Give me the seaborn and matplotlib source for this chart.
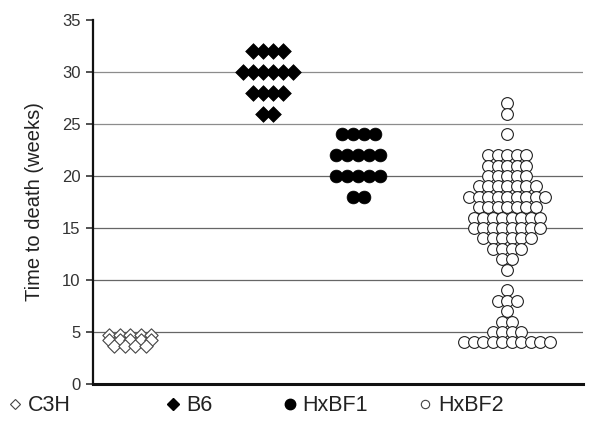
import matplotlib
matplotlib.use("Agg")

import matplotlib.pyplot as plt
import numpy as np
import pandas as pd
import seaborn as sns
from matplotlib.lines import Line2D

# Survival times (weeks), one entry per mouse
groups = ["C3H", "B6", "HxBF1", "HxBF2"]
c3h_weeks = [4.7] * 5 + [4.2] * 5 + [3.7] * 4
b6_weeks = [32] * 4 + [30] * 6 + [28] * 4 + [26] * 2
hxbf1_weeks = [24] * 4 + [22] * 5 + [20] * 5 + [18] * 2
hxbf2_weeks = (
    [27] + [26] + [24]
    + [22] * 5 + [21] * 5 + [20] * 5 + [19] * 7 + [18] * 9 + [17] * 7
    + [16] * 8 + [15] * 8 + [14] * 6 + [13] * 4 + [12] * 2 + [11]
    + [9] + [8] * 3 + [7] + [6] * 2 + [5] * 4 + [4] * 10
)
y_ticks = [0, 5, 10, 15, 20, 25, 30, 35]

# layout: where each column of dots sits and how far apart the dots are
GROUP_CENTERS = [37, 175, 265, 414]
DOT_SPACING = [10.5, 10, 11, 9.5]
MARKERS = {
    "C3H": dict(marker="D", s=46, facecolor="white", edgecolor="#444444", linewidth=0.8),
    "B6": dict(marker="D", s=64, facecolor="black", edgecolor="black", linewidth=0.5),
    "HxBF1": dict(marker="o", s=85, facecolor="black", edgecolor="black", linewidth=0.5),
    "HxBF2": dict(marker="o", s=72, facecolor="white", edgecolor="#222222", linewidth=0.8),
}


def row_positions(weeks, center, spacing):
    """Spread tied values side by side, centred on the group position."""
    weeks = np.asarray(weeks, dtype=float)
    xs = np.empty_like(weeks)
    for value in np.unique(weeks):
        idx = np.where(weeks == value)[0]
        offsets = (np.arange(len(idx)) - (len(idx) - 1) / 2) * spacing
        xs[idx] = center + offsets
    return xs


frames = []
for name, weeks, center, spacing in zip(
    groups, [c3h_weeks, b6_weeks, hxbf1_weeks, hxbf2_weeks], GROUP_CENTERS, DOT_SPACING
):
    frames.append(
        pd.DataFrame({"group": name, "weeks": weeks, "x": row_positions(weeks, center, spacing)})
    )
df = pd.concat(frames, ignore_index=True)

sns.set_theme(style="white")
plt.rcParams["font.family"] = ["Liberation Sans", "DejaVu Sans"]

fig, ax = plt.subplots(figsize=(6.05, 4.33), dpi=100)
fig.subplots_adjust(left=0.154, right=0.964, bottom=0.113, top=0.954)

# upper gridlines look lighter in the scanned original
for level in y_ticks[1:-1]:
    shade = "#8c8c8c" if level >= 25 else "#666666"
    ax.axhline(level, color=shade, linewidth=0.9, zorder=0)

for name in groups:
    sns.scatterplot(
        data=df[df["group"] == name], x="x", y="weeks", ax=ax, legend=False,
        zorder=3, **MARKERS[name]
    )

ax.set_xlim(0, 490)
ax.set_ylim(0, 35)
ax.set_yticks(y_ticks)
ax.set_xticks([])
ax.set_xlabel("")
ax.set_ylabel("Time to death (weeks)", fontsize=14.5, color="#222222", labelpad=13)
ax.tick_params(axis="y", direction="out", length=5, width=1.2, colors="#333333",
               labelsize=12, pad=4, left=True)
for side in ["top", "right"]:
    ax.spines[side].set_visible(False)
ax.spines["left"].set_color("#111111")
ax.spines["left"].set_linewidth(1.6)
ax.spines["bottom"].set_color("#111111")
ax.spines["bottom"].set_linewidth(2.2)

handles = [
    Line2D([], [], linestyle="", marker="D", markersize=5, markerfacecolor="white",
           markeredgecolor="#444444", markeredgewidth=0.8),
    Line2D([], [], linestyle="", marker="D", markersize=6, markerfacecolor="black",
           markeredgecolor="black"),
    Line2D([], [], linestyle="", marker="o", markersize=7.5, markerfacecolor="black",
           markeredgecolor="black"),
    Line2D([], [], linestyle="", marker="o", markersize=6, markerfacecolor="white",
           markeredgecolor="#444444", markeredgewidth=0.8),
]
# one legend entry per slot, spread under the axis like the original
legend_x = [0.007, 0.268, 0.461, 0.685]
for handle, label, x0 in zip(handles, groups, legend_x):
    fig.legend([handle], [label], loc="center left", bbox_to_anchor=(x0, 0.063),
               frameon=False, fontsize=15.5, handletextpad=0.1, handlelength=1.0,
               borderpad=0, borderaxespad=0, labelcolor="#222222")

fig.savefig("out.png", dpi=100)
